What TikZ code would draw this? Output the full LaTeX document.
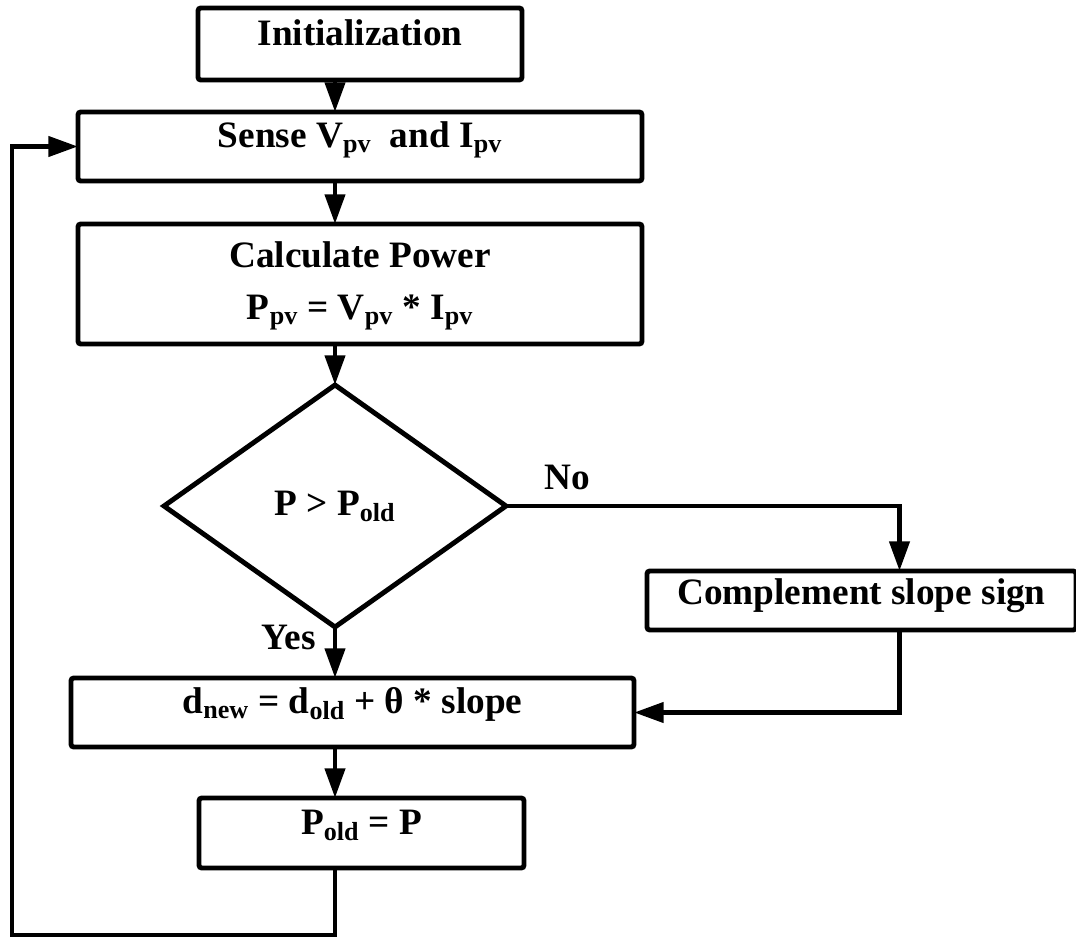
\documentclass[tikz,border=0pt]{standalone}
\usepackage{fontspec}
\setmainfont{Liberation Serif}
\usepackage{tikz}
\usetikzlibrary{arrows.meta, positioning, shapes.geometric}

\begin{document}
\begin{tikzpicture}[
		block/.style={
			draw,
			line width=3.5pt,
			rounded corners=2pt,
			align=center,
			inner sep=0pt,
			outer sep=0pt,
			text height=0.7em,
			text depth=0.54em,
			font=\fontsize{26.5}{37}\selectfont\bfseries
		},
		decision/.style={
			draw,
			diamond,
			line width=3.5pt,
			inner sep=0pt,
			outer sep=0pt,
			minimum width=8.55cm,
			minimum height=6.05cm,
			font=\fontsize{26.5}{37}\selectfont\bfseries
		},
		branch/.style={
			inner sep=0pt,
			font=\fontsize{26.5}{37}\selectfont\bfseries
		},
		arrow/.style={-{Triangle[length=21pt, width=14pt]}, line width=3.5pt}
		]
		
		\useasboundingbox (0,0) rectangle (26.9,-23.45);
		
		\node[block, minimum width=8.1cm, minimum height=1.8cm] (init) at (9.0,-1.1)
		{Initialization};
		
		\node[block, minimum width=14.1cm, minimum height=1.725cm, below=0.8cm of init] (sense)
		{Sense V\textsubscript{pv}\ \ and I\textsubscript{pv}};
		
		\node[block, minimum width=14.1cm, minimum height=3cm, text height=, below=1.075cm of sense] (calc)
		{Calculate Power\\P\textsubscript{pv} = V\textsubscript{pv} * I\textsubscript{pv}};
		
		\node[decision, below=1.025cm of calc, xshift=-0.625cm] (check)
		{P > P\textsubscript{old}};
		
		\node[block, minimum width=10.725cm, minimum height=1.475cm, text depth=0.15em, below right=1.625cm and 3.525cm of check.east] (flip)
		{Complement slope sign};
		
		\node[block, minimum width=14.075cm, minimum height=1.725cm, below=1.275cm of check, xshift=0.4375cm] (duty)
		{d\textsubscript{new} = d\textsubscript{old} + θ * slope};
		
		\node[block, minimum width=8.125cm, minimum height=1.75cm, below=1.275cm of duty, xshift=0.225cm] (pold)
		{P\textsubscript{old} = P};
		
		\draw[arrow] (init.south -| check.north) -- (sense.north -| check.north);
		\draw[arrow] (sense.south -| check.north) -- (calc.north -| check.north);
		\draw[arrow] (calc.south -| check.north) -- (check.north);
		
		\draw[arrow] (check.south) -- node[branch, pos=0, anchor=north east, xshift=-0.425cm, yshift=0.1cm] {Yes} (duty.north -| check.south);
		\draw[arrow] (check.east) -| node[branch, pos=0, anchor=south west, xshift=0.9cm, yshift=0.35cm] {No} ([xshift=0.95cm]flip.north);
		\draw[arrow] ([xshift=0.95cm]flip.south) |- (duty.east);
		
		\draw[arrow] (duty.south -| check.south) -- (pold.north -| check.south);
		\draw[arrow] (pold.south -| check.south) -- ++(0,-1.675) -| ([xshift=-1.65cm]sense.west) -- (sense.west);
		
	\end{tikzpicture}
\end{document}
